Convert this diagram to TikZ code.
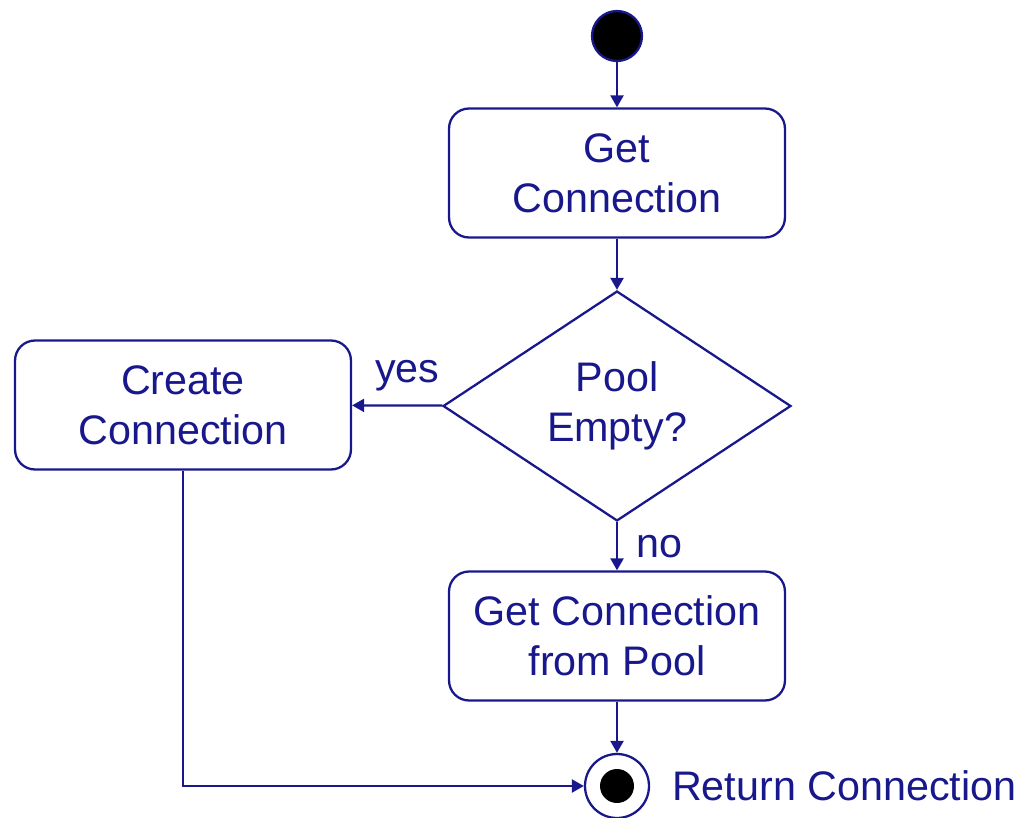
\documentclass[tikz,border=0pt]{standalone}
\usepackage{fontspec}
\setmainfont{Liberation Sans}
\usepackage{tikz}
\usetikzlibrary{shapes.geometric,arrows.meta,positioning}
\definecolor{umlblue}{RGB}{24,24,140}

\begin{document}
\begin{tikzpicture}[x=0.02cm, y=-0.02cm, line width=1.3pt, draw=umlblue, text=umlblue,
  >={Triangle[length=2.4mm,width=2.6mm]},
  every node/.style={font=\fontsize{23.5}{28.5}\selectfont},
  main/.style = {draw, rectangle, rounded corners=4mm, minimum width=6.72cm, minimum height=2.58cm, align=center},
  dec/.style = {draw, diamond, aspect=1.51, inner sep=0pt, minimum width=6.96cm, minimum height=4.6cm, align=center},
  init/.style = {draw, circle, fill=black, minimum size=1cm, inner sep=0pt},
  final/.style = {draw, circle, minimum size=1.28cm, inner sep=0pt},
  dot/.style = {circle, fill=black, minimum size=0.68cm, inner sep=0pt}]
\useasboundingbox (0,0) rectangle (1025,818);

\node[init] (1) at (617,36) {};
\node[main] (2) at (617,173) {Get\\Connection};
\node[dec] (3) at (617,406) {Pool\\Empty?};
\node[main] (4) at (183,405) {Create\\Connection};
\node[main] (5) at (617,636) {Get Connection\\from Pool};
\node[final] (6) at (617,786) {};
\node[dot] (7) at (6) {};
\node[right=0.3cm of 6] (8) {Return Connection};

\draw[->] (1) -- (2);
\draw[->] (2) -- (3);
\draw[->] (3) -- node[above, xshift=2mm, yshift=1.5mm] {yes} (4);
\draw[->] (3) -- node[right=2.5mm] {no} (5);
\draw[->] (5) -- (6);
\draw[->] (4) |- (6);
\end{tikzpicture}
\end{document}
